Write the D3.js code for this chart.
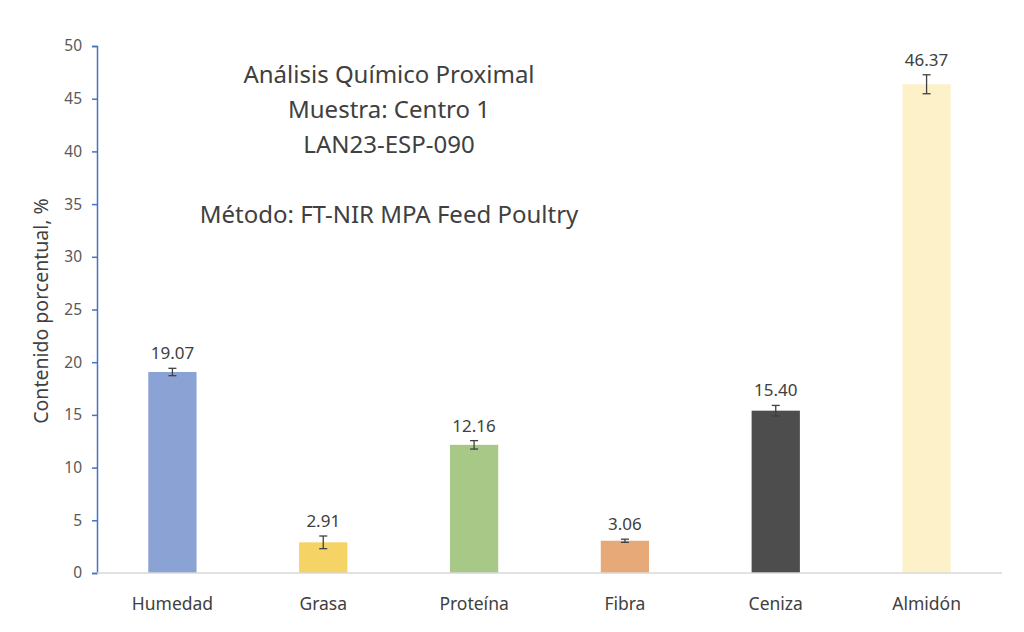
<!DOCTYPE html>
<html>
<head>
<meta charset="utf-8">
<script src="https://cdn.jsdelivr.net/npm/d3@7"></script>
<style>
  body { margin: 0; background: #fff; }
  text { font-family: "Noto Sans", "Open Sans", sans-serif; }
</style>
</head>
<body>
<svg id="chart" width="1024" height="632"></svg>
<script>
var categories = ['Humedad', 'Grasa', 'Proteína', 'Fibra', 'Ceniza', 'Almidón'];
var values = [19.07, 2.91, 12.16, 3.06, 15.40, 46.37];
var errors = [0.35, 0.6, 0.4, 0.15, 0.5, 0.9];
var colors = ['#8aa2d4', '#f6d365', '#a7c886', '#e7a978', '#4d4d4d', '#fdf1c9'];
var yTicks = [0, 5, 10, 15, 20, 25, 30, 35, 40, 45, 50];
var titleLines = ['Análisis Químico Proximal', 'Muestra: Centro 1', 'LAN23-ESP-090', '', 'Método: FT-NIR MPA Feed Poultry'];

var svg = d3.select('#chart');
var margin = {left: 97, right: 22, top: 46, bottom: 59};
var width = 1024 - margin.left - margin.right;
var height = 632 - margin.top - margin.bottom;

var g = svg.append('g')
    .attr('transform', 'translate(' + margin.left + ',' + margin.top + ')');

var x = d3.scaleBand()
    .domain(categories)
    .range([0, width])
    .paddingInner(0.68)
    .paddingOuter(0.34);

var y = d3.scaleLinear()
    .domain([0, 50])
    .range([height, 0]);

// y axis
var yAxis = g.append('g')
    .call(d3.axisLeft(y).tickValues(yTicks).tickSize(5).tickPadding(10));
yAxis.select('.domain').attr('stroke', '#4472c4').attr('stroke-width', 1.5);
yAxis.selectAll('.tick line').attr('stroke', '#4472c4').attr('stroke-width', 1.5);
yAxis.selectAll('.tick text').attr('fill', '#595959').attr('font-size', 15.5);

// bars
g.selectAll('rect.bar')
    .data(values)
    .enter()
    .append('rect')
    .attr('class', 'bar')
    .attr('x', function (d, i) { return x(categories[i]); })
    .attr('y', function (d) { return y(d); })
    .attr('width', x.bandwidth())
    .attr('height', function (d) { return height - y(d); })
    .attr('fill', function (d, i) { return colors[i]; });

// x axis baseline
g.append('line')
    .attr('x1', 0).attr('x2', width)
    .attr('y1', height).attr('y2', height)
    .attr('stroke', '#d9d9d9').attr('stroke-width', 1.5);

// error bars
var eb = g.selectAll('g.err')
    .data(values)
    .enter()
    .append('g')
    .attr('class', 'err')
    .attr('stroke', '#404040')
    .attr('stroke-width', 1.3);
eb.append('line')
    .attr('x1', function (d, i) { return x(categories[i]) + x.bandwidth() / 2; })
    .attr('x2', function (d, i) { return x(categories[i]) + x.bandwidth() / 2; })
    .attr('y1', function (d, i) { return y(d - errors[i]); })
    .attr('y2', function (d, i) { return y(d + errors[i]); });
[-1, 1].forEach(function (s) {
    eb.append('line')
        .attr('x1', function (d, i) { return x(categories[i]) + x.bandwidth() / 2 - 4; })
        .attr('x2', function (d, i) { return x(categories[i]) + x.bandwidth() / 2 + 4; })
        .attr('y1', function (d, i) { return y(d + s * errors[i]); })
        .attr('y2', function (d, i) { return y(d + s * errors[i]); });
});

// value labels
g.selectAll('text.val')
    .data(values)
    .enter()
    .append('text')
    .attr('class', 'val')
    .attr('x', function (d, i) { return x(categories[i]) + x.bandwidth() / 2; })
    .attr('y', function (d, i) { return y(d + errors[i]) - 9; })
    .attr('text-anchor', 'middle')
    .attr('fill', '#404040')
    .attr('font-size', 17)
    .text(function (d) { return d.toFixed(2); });

// category labels
g.selectAll('text.cat')
    .data(categories)
    .enter()
    .append('text')
    .attr('class', 'cat')
    .attr('x', function (d) { return x(d) + x.bandwidth() / 2; })
    .attr('y', height + 37)
    .attr('text-anchor', 'middle')
    .attr('fill', '#404040')
    .attr('font-size', 17.5)
    .text(function (d) { return d; });

// y label
svg.append('text')
    .attr('transform', 'translate(48,311) rotate(-90)')
    .attr('text-anchor', 'middle')
    .attr('fill', '#404040')
    .attr('font-size', 19.5)
    .text('Contenido porcentual, %');

// title block
svg.selectAll('text.title')
    .data(titleLines)
    .enter()
    .append('text')
    .attr('class', 'title')
    .attr('x', 389)
    .attr('y', function (d, i) { return 83 + i * 35; })
    .attr('text-anchor', 'middle')
    .attr('fill', '#404040')
    .attr('font-size', 24)
    .text(function (d) { return d; });
</script>
</body>
</html>
